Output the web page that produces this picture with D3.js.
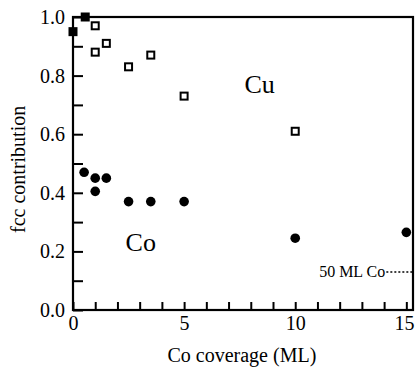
<!DOCTYPE html>
<html>
<head>
<meta charset="utf-8">
<script src="https://cdn.jsdelivr.net/npm/d3@7"></script>
<style>
  html, body { margin: 0; padding: 0; background: #fff; }
  svg text { font-family: "Liberation Serif", "Times New Roman", "DejaVu Serif", serif; fill: #000; }
</style>
</head>
<body>
<div id="chart"></div>
<script>
// Cu fcc contribution (open squares)
const cuX = [1, 1, 1.5, 2.5, 3.5, 5, 10];
const cuY = [0.97, 0.88, 0.91, 0.83, 0.87, 0.73, 0.61];
// filled squares near zero coverage
const cuFilledX = [0, 0.55];
const cuFilledY = [0.95, 1.0];
// Co fcc contribution (filled circles)
const coX = [0.5, 1, 1, 1.5, 2.5, 3.5, 5, 10, 15];
const coY = [0.47, 0.45, 0.405, 0.45, 0.37, 0.37, 0.37, 0.245, 0.265];
// 50 ML Co reference level
const refLevel = 0.13;

const xTicks = [0, 1, 2, 3, 4, 5, 6, 7, 8, 9, 10, 11, 12, 13, 14, 15];
const xLabels = [0, 5, 10, 15];
const yTicks = [0, 0.1, 0.2, 0.3, 0.4, 0.5, 0.6, 0.7, 0.8, 0.9, 1.0];
const yLabels = [0, 0.2, 0.4, 0.6, 0.8, 1.0];

const width = 415, height = 368;
const margin = { top: 17, right: 2, bottom: 58, left: 73 };
const w = width - margin.left - margin.right;
const h = height - margin.top - margin.bottom;

const svg = d3.select('#chart').append('svg')
  .attr('width', width)
  .attr('height', height)
  .attr('font-family', '"Liberation Serif", "Times New Roman", serif');

const g = svg.append('g')
  .attr('transform', `translate(${margin.left},${margin.top})`);

const x = d3.scaleLinear().domain([0, 15.3]).range([0, w]);
const y = d3.scaleLinear().domain([0, 1]).range([h, 0]);

// frame
g.append('rect')
  .attr('x', 0).attr('y', 0)
  .attr('width', w).attr('height', h)
  .attr('fill', 'none')
  .attr('stroke', '#000')
  .attr('stroke-width', 2.2);

// x axis
const xAxis = g.append('g')
  .attr('transform', `translate(0,${h})`)
  .call(d3.axisBottom(x)
    .tickValues(xTicks)
    .tickSize(-8)
    .tickPadding(6)
    .tickFormat(d => xLabels.includes(d) ? d : ''));
xAxis.select('.domain').remove();
xAxis.selectAll('line').attr('stroke-width', 2);
xAxis.selectAll('text').attr('font-size', 20).attr('dy', '0.72em')
  .attr('font-family', '"Liberation Serif", serif');
// last label sits flush with the right edge, as in the original
xAxis.selectAll('.tick').filter(d => d === 15).select('text')
  .attr('text-anchor', 'end')
  .attr('x', x(15.3) - x(15) + 1);

// y axis
const yAxis = g.append('g')
  .call(d3.axisLeft(y)
    .tickValues(yTicks)
    .tickSize(-10)
    .tickPadding(8)
    .tickFormat(d => yLabels.some(v => Math.abs(v - d) < 1e-9) ? d3.format('.1f')(d) : ''));
yAxis.select('.domain').remove();
yAxis.selectAll('line').attr('stroke-width', 2);
yAxis.selectAll('text').attr('font-size', 20)
  .attr('font-family', '"Liberation Serif", serif');

// axis titles
svg.append('text')
  .attr('x', margin.left + x(7.6))
  .attr('y', 362)
  .attr('text-anchor', 'middle')
  .attr('font-size', 20)
  .text('Co coverage (ML)');

svg.append('text')
  .attr('transform', `translate(25,${margin.top + y(0.48)}) rotate(-90)`)
  .attr('text-anchor', 'middle')
  .attr('font-size', 20)
  .text('fcc contribution');

// Cu open squares
const sq = 7;
g.selectAll('.cu')
  .data(cuX.map((d, i) => [d, cuY[i]]))
  .enter().append('rect')
    .attr('class', 'cu')
    .attr('x', d => x(d[0]) - sq / 2)
    .attr('y', d => y(d[1]) - sq / 2)
    .attr('width', sq)
    .attr('height', sq)
    .attr('fill', '#fff')
    .attr('stroke', '#000')
    .attr('stroke-width', 2);

// filled squares
const fs = 9;
g.selectAll('.cuf')
  .data(cuFilledX.map((d, i) => [d, cuFilledY[i]]))
  .enter().append('rect')
    .attr('class', 'cuf')
    .attr('x', d => x(d[0]) - fs / 2)
    .attr('y', d => y(d[1]) - fs / 2)
    .attr('width', fs)
    .attr('height', fs)
    .attr('fill', '#000');

// Co filled circles
g.selectAll('.co')
  .data(coX.map((d, i) => [d, coY[i]]))
  .enter().append('circle')
    .attr('class', 'co')
    .attr('cx', d => x(d[0]))
    .attr('cy', d => y(d[1]))
    .attr('r', 4.8)
    .attr('fill', '#000');

// series labels
g.append('text')
  .attr('x', x(8.4))
  .attr('y', y(0.74))
  .attr('text-anchor', 'middle')
  .attr('font-size', 26)
  .text('Cu');

g.append('text')
  .attr('x', x(3.05))
  .attr('y', y(0.2))
  .attr('text-anchor', 'middle')
  .attr('font-size', 26)
  .text('Co');

// 50 ML Co reference
g.append('line')
  .attr('x1', x(14.1))
  .attr('x2', w)
  .attr('y1', y(refLevel))
  .attr('y2', y(refLevel))
  .attr('stroke', '#000')
  .attr('stroke-width', 1.5)
  .attr('stroke-dasharray', '2,2');

g.append('text')
  .attr('x', x(14.05))
  .attr('y', y(refLevel) + 5)
  .attr('text-anchor', 'end')
  .attr('font-size', 16)
  .text('50 ML Co');
</script>
</body>
</html>
